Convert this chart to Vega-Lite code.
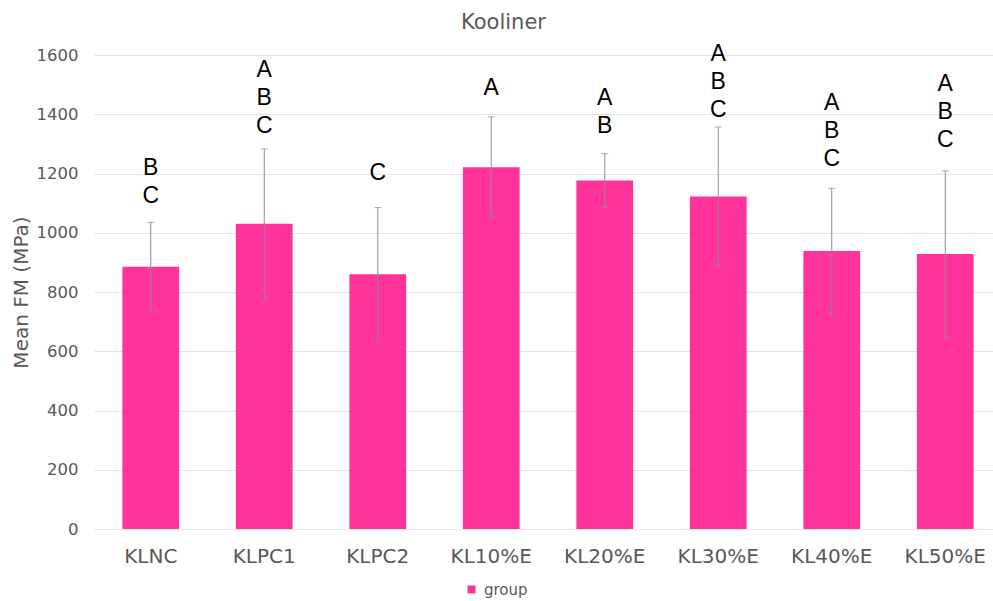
{
  "$schema": "https://vega.github.io/schema/vega-lite/v6.json",
  "autosize": "none",
  "padding": {"left": 94, "top": 55, "right": 0, "bottom": 72},
  "width": 899,
  "height": 474,
  "background": "white",
  "config": {
    "view": {"stroke": null},
    "axisY": {"labelFont": "DejaVu Sans", "labelFontSize": 16.5, "labelColor": "#595959", "labelPadding": 16, "domain": false, "ticks": false, "gridColor": "#e3e3e3", "titleFont": "DejaVu Sans", "titleFontSize": 20, "titleFontWeight": "normal", "titleColor": "#595959", "titlePadding": 5, "format": "d"}
  },
  "title": {"text": "Kooliner", "fontSize": 21, "font": "DejaVu Sans", "fontWeight": "normal", "color": "#595959", "dx": -40, "offset": 10},
  "data": {"values": [
    {"group": "KLNC", "mean": 885, "sd": 150, "letters": "B\nC", "labelY": 1218, "series": "group"},
    {"group": "KLPC1", "mean": 1030, "sd": 253, "letters": "A\nB\nC", "labelY": 1548, "series": "group"},
    {"group": "KLPC2", "mean": 860, "sd": 225, "letters": "C", "labelY": 1203, "series": "group"},
    {"group": "KL10%E", "mean": 1221, "sd": 170, "letters": "A", "labelY": 1490, "series": "group"},
    {"group": "KL20%E", "mean": 1176, "sd": 91, "letters": "A\nB", "labelY": 1455, "series": "group"},
    {"group": "KL30%E", "mean": 1122, "sd": 235, "letters": "A\nB\nC", "labelY": 1604, "series": "group"},
    {"group": "KL40%E", "mean": 938, "sd": 212, "letters": "A\nB\nC", "labelY": 1438, "series": "group"},
    {"group": "KL50%E", "mean": 928, "sd": 281, "letters": "A\nB\nC", "labelY": 1503, "series": "group"}
  ]},
  "encoding": {
    "x": {
      "field": "group", "type": "nominal", "sort": null,
      "scale": {"range": [0, 908], "paddingInner": 0.5, "paddingOuter": 0.25},
      "axis": {"title": null, "labelAngle": 0, "labelFont": "DejaVu Sans", "labelFontSize": 20, "labelColor": "#595959", "labelPadding": 17, "domain": false, "ticks": false, "grid": false}
    }
  },
  "layer": [
    {
      "mark": {"type": "bar", "color": "#FF3399"},
      "encoding": {
        "y": {
          "field": "mean", "type": "quantitative",
          "scale": {"domain": [0, 1600], "nice": false},
          "axis": {"title": "Mean FM (MPa)", "values": [0, 200, 400, 600, 800, 1000, 1200, 1400, 1600]}
        },
        "color": {
          "field": "series", "type": "nominal",
          "scale": {"range": ["#FF3399"]},
          "legend": {"title": null, "orient": "none", "legendX": 370, "legendY": 527, "symbolType": "square", "symbolSize": 64, "symbolStrokeWidth": 0, "labelFont": "DejaVu Sans", "labelFontSize": 15, "labelColor": "#595959", "labelOffset": 5, "padding": 0}
        }
      }
    },
    {
      "mark": {"type": "errorbar", "ticks": {"size": 7}, "color": "#8c8c8c", "thickness": 1},
      "encoding": {
        "y": {"field": "mean", "type": "quantitative", "axis": {"title": "Mean FM (MPa)", "values": [0, 200, 400, 600, 800, 1000, 1200, 1400, 1600]}},
        "yError": {"field": "sd"}
      }
    },
    {
      "mark": {"type": "text", "font": "Liberation Sans", "fontSize": 23, "lineHeight": 28, "lineBreak": "\n", "baseline": "middle", "color": "black"},
      "encoding": {
        "y": {"field": "labelY", "type": "quantitative", "axis": {"title": "Mean FM (MPa)", "values": [0, 200, 400, 600, 800, 1000, 1200, 1400, 1600]}},
        "text": {"field": "letters"}
      }
    }
  ]
}
